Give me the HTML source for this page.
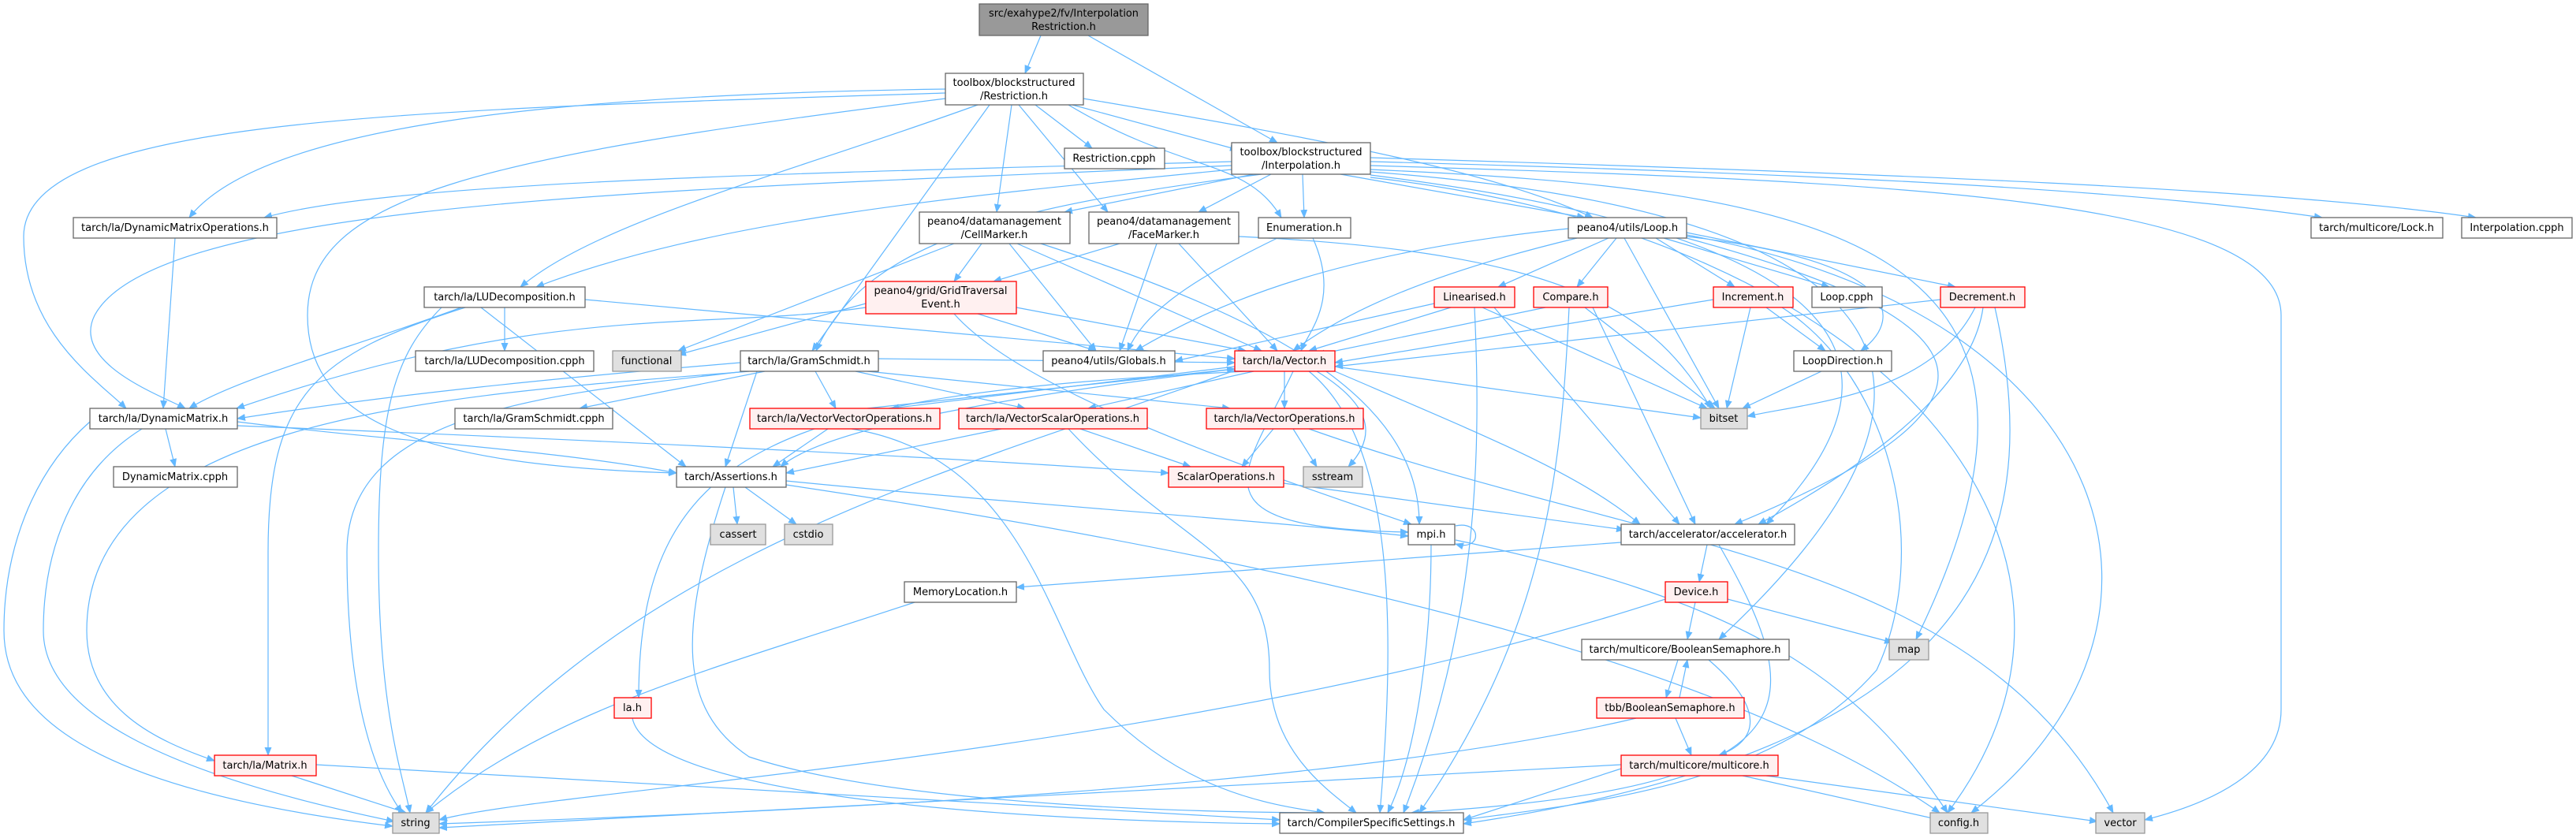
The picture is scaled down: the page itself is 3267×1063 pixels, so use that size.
<!DOCTYPE html>
<html><head><meta charset="utf-8"><style>
html,body{margin:0;padding:0;background:#fff;}
svg{display:block;}
text{font-family:"DejaVu Sans","Liberation Sans",sans-serif;font-size:13px;fill:#000;text-anchor:middle;}
.n rect{fill:#fff;stroke:#666;stroke-width:1.3;}
.r rect{fill:#fff0f0;stroke:#ff0000;stroke-width:1.3;}
.g rect{fill:#e0e0e0;stroke:#999;stroke-width:1.3;}
.k rect{fill:#999;stroke:#666;stroke-width:1.3;}
.e line,.e path{stroke:#63b8ff;stroke-width:1.2;fill:none;marker-end:url(#a);}
</style></head><body>
<svg width="3267" height="1063" viewBox="0 0 3267 1063" xmlns="http://www.w3.org/2000/svg">
<defs><marker id="a" markerUnits="userSpaceOnUse" markerWidth="11" markerHeight="9" refX="10" refY="4.5" orient="auto"><path d="M0,0 L11,4.5 L0,9 z" fill="#63b8ff"/></marker></defs>
<g class="e">
<line x1="1320" y1="45" x2="1300" y2="93"/>
<line x1="1380" y1="45" x2="1620" y2="181"/>
<path d="M1199,113 C700,120 330,160 240,276"/>
<path d="M1199,118 C500,140 30,150 30,300 C30,420 120,480 160,518"/>
<path d="M1240,133 C1000,220 760,280 660,364"/>
<line x1="1255" y1="133" x2="1030" y2="445"/>
<path d="M1199,125 C600,200 390,250 390,400 C390,520 500,590 858,600"/>
<line x1="1283" y1="133" x2="1264" y2="269"/>
<line x1="1292" y1="133" x2="1405" y2="269"/>
<line x1="1313" y1="133" x2="1385" y2="188"/>
<line x1="1360" y1="133" x2="1570" y2="190"/>
<path d="M1355,133 C1500,220 1580,200 1625,276"/>
<path d="M1374,125 C1700,180 1900,220 2020,276"/>
<path d="M1562,205 C1000,220 500,230 335,276"/>
<path d="M1562,210 C900,240 200,250 120,400 C90,460 200,500 235,518"/>
<path d="M1562,215 C1200,250 900,280 680,364"/>
<path d="M1600,221 C1300,260 1100,300 1035,445"/>
<line x1="1590" y1="221" x2="1350" y2="269"/>
<line x1="1612" y1="221" x2="1520" y2="269"/>
<line x1="1652" y1="221" x2="1654" y2="276"/>
<line x1="1700" y1="221" x2="2010" y2="276"/>
<path d="M1738,205 C2300,220 2700,240 2945,276"/>
<path d="M1738,200 C2400,220 2900,240 3140,276"/>
<path d="M1738,210 C2400,230 2893,250 2893,400 L2893,900 C2893,980 2800,1020 2720,1040"/>
<path d="M1738,215 C2300,240 2680,300 2430,811"/>
<path d="M1738,218 C2300,260 2600,420 2180,811"/>
<path d="M1738,222 C2200,280 2500,400 2240,665"/>
<path d="M1738,225 C2400,300 2720,700 2470,1031"/>
<line x1="1245" y1="309" x2="1210" y2="357"/>
<line x1="1280" y1="309" x2="1390" y2="445"/>
<line x1="1290" y1="309" x2="1600" y2="445"/>
<line x1="1210" y1="309" x2="860" y2="445"/>
<path d="M1320,309 C1600,400 1800,500 1800,665"/>
<line x1="1420" y1="309" x2="1260" y2="357"/>
<line x1="1467" y1="309" x2="1420" y2="445"/>
<line x1="1495" y1="309" x2="1620" y2="445"/>
<path d="M1571,300 C2000,320 2100,400 2170,518"/>
<path d="M1620,302 C1500,360 1450,400 1430,445"/>
<path d="M1665,302 C1700,380 1660,420 1650,445"/>
<line x1="2040" y1="302" x2="1900" y2="364"/>
<line x1="2050" y1="302" x2="2000" y2="364"/>
<line x1="2100" y1="302" x2="2200" y2="364"/>
<line x1="2110" y1="302" x2="2320" y2="364"/>
<line x1="2139" y1="295" x2="2480" y2="364"/>
<path d="M2139,300 C2400,330 2420,400 2360,445"/>
<path d="M1989,290 C1700,320 1550,380 1440,445"/>
<path d="M2000,302 C1800,350 1700,400 1640,445"/>
<line x1="2060" y1="302" x2="2180" y2="518"/>
<path d="M2139,302 C2500,400 2600,500 2200,665"/>
<path d="M2139,298 C2700,400 2800,800 2500,1031"/>
<line x1="1240" y1="398" x2="1390" y2="445"/>
<line x1="1289" y1="390" x2="1580" y2="445"/>
<line x1="1098" y1="385" x2="860" y2="450"/>
<path d="M1098,390 C900,420 700,380 300,518"/>
<path d="M1210,398 C1300,500 1600,600 1790,665"/>
<path d="M585,390 C450,440 300,480 240,518"/>
<path d="M590,390 C400,450 340,500 340,700 L340,958"/>
<line x1="742" y1="380" x2="1566" y2="455"/>
<line x1="610" y1="390" x2="870" y2="592"/>
<line x1="640" y1="390" x2="640" y2="445"/>
<path d="M560,390 C500,450 480,520 480,700 C480,900 510,980 520,1031"/>
<path d="M939,460 C700,480 500,500 301,531"/>
<line x1="970" y1="471" x2="735" y2="518"/>
<line x1="1034" y1="471" x2="1060" y2="518"/>
<line x1="1085" y1="471" x2="1300" y2="518"/>
<line x1="1100" y1="471" x2="1560" y2="518"/>
<line x1="1114" y1="455" x2="1566" y2="460"/>
<line x1="960" y1="471" x2="920" y2="592"/>
<path d="M950,471 C600,500 110,520 110,800 C110,900 200,940 272,965"/>
<path d="M945,471 C700,500 440,520 440,700 C440,900 480,990 510,1031"/>
<line x1="222" y1="302" x2="207" y2="518"/>
<line x1="210" y1="544" x2="222" y2="592"/>
<path d="M301,535 C500,560 700,570 858,600"/>
<path d="M180,544 C90,600 55,700 55,800 C55,900 200,980 500,1042"/>
<path d="M301,540 C800,560 1200,580 1482,600"/>
<path d="M114,535 C40,600 5,700 5,800 C5,900 100,1000 498,1048"/>
<line x1="1840" y1="390" x2="1660" y2="445"/>
<line x1="1819" y1="385" x2="1490" y2="458"/>
<line x1="1880" y1="390" x2="2165" y2="518"/>
<line x1="1895" y1="390" x2="2130" y2="665"/>
<path d="M1870,390 C1880,600 1870,800 1780,1031"/>
<line x1="1960" y1="390" x2="1670" y2="450"/>
<line x1="2010" y1="390" x2="2175" y2="518"/>
<line x1="2020" y1="390" x2="2150" y2="665"/>
<path d="M1990,390 C1980,600 1960,800 1800,1031"/>
<line x1="2173" y1="380" x2="1693" y2="460"/>
<line x1="2240" y1="390" x2="2315" y2="445"/>
<line x1="2220" y1="390" x2="2190" y2="518"/>
<path d="M2260,390 C2400,480 2450,700 2380,850 C2250,1000 2000,1020 1856,1040"/>
<line x1="2461" y1="380" x2="1693" y2="465"/>
<path d="M2505,390 C2450,500 2300,510 2216,528"/>
<path d="M2515,390 C2500,500 2350,600 2230,665"/>
<path d="M2530,390 C2600,700 2500,950 1856,1045"/>
<line x1="2310" y1="471" x2="2210" y2="518"/>
<line x1="1566" y1="465" x2="1130" y2="518"/>
<line x1="1100" y1="518" x2="1566" y2="468"/>
<line x1="1590" y1="471" x2="1380" y2="518"/>
<line x1="1629" y1="471" x2="1629" y2="518"/>
<path d="M1566,468 C1300,500 1050,540 990,592"/>
<path d="M1580,471 C1000,500 810,560 810,885"/>
<path d="M1670,471 C1750,520 1740,560 1710,592"/>
<path d="M1566,470 C1200,600 800,700 540,1031"/>
<line x1="1693" y1="465" x2="2157" y2="530"/>
<path d="M1660,471 C1770,560 1770,800 1750,1031"/>
<path d="M1693,471 C1900,560 2000,600 2080,665"/>
<path d="M1640,471 C1580,600 1500,670 1786,675"/>
<line x1="1050" y1="544" x2="980" y2="592"/>
<path d="M1080,544 C1300,580 1330,800 1400,900 C1500,1000 1600,1020 1680,1031"/>
<line x1="1370" y1="544" x2="1510" y2="592"/>
<line x1="1270" y1="544" x2="997" y2="600"/>
<path d="M1355,544 C1500,700 1610,700 1610,850 C1610,950 1680,1000 1720,1031"/>
<line x1="1615" y1="544" x2="1575" y2="592"/>
<line x1="1640" y1="544" x2="1670" y2="592"/>
<path d="M1660,544 C2100,700 2500,700 2680,1031"/>
<line x1="1628" y1="613" x2="2060" y2="672"/>
<line x1="930" y1="618" x2="935" y2="665"/>
<line x1="945" y1="618" x2="1010" y2="665"/>
<path d="M997,610 C1300,640 1600,660 1786,680"/>
<path d="M920,618 C860,800 860,900 950,960 C1100,1010 1400,1030 1680,1031"/>
<path d="M997,615 C1700,720 2200,850 2460,1031"/>
<path d="M1846,667 C1880,660 1880,700 1846,690"/>
<path d="M1815,691 C1815,800 1800,950 1760,1031"/>
<path d="M1846,685 C2200,760 2350,850 2470,1031"/>
<line x1="2056" y1="688" x2="1289" y2="745"/>
<line x1="2165" y1="691" x2="2155" y2="738"/>
<path d="M2180,691 C2300,900 2300,1000 1790,1031"/>
<line x1="2150" y1="764" x2="2140" y2="811"/>
<line x1="2191" y1="760" x2="2400" y2="815"/>
<path d="M2112,760 C1500,960 700,1000 557,1040"/>
<path d="M1160,764 C900,850 700,900 540,1031"/>
<line x1="2128" y1="837" x2="2113" y2="885"/>
<line x1="2130" y1="885" x2="2140" y2="837"/>
<path d="M2167,837 C2240,900 2230,940 2180,958"/>
<line x1="2125" y1="911" x2="2145" y2="958"/>
<path d="M2075,911 C1700,1000 1000,1030 557,1045"/>
<line x1="2056" y1="975" x2="1856" y2="1040"/>
<line x1="2210" y1="984" x2="2460" y2="1040"/>
<line x1="2240" y1="984" x2="2660" y2="1042"/>
<path d="M2056,970 C1500,1000 1000,1030 557,1050"/>
<path d="M802,911 C820,1000 1200,1040 1623,1045"/>
<line x1="370" y1="984" x2="515" y2="1031"/>
<line x1="401" y1="970" x2="1623" y2="1040"/>
</g>
<g class="k"><rect x="1242" y="5" width="214" height="40"/><text x="1349" y="21" textLength="190" lengthAdjust="spacingAndGlyphs">src/exahype2/fv/Interpolation</text><text x="1349" y="38">Restriction.h</text></g>
<g class="n"><rect x="1199" y="93" width="175" height="40"/><text x="1286" y="109" textLength="155" lengthAdjust="spacingAndGlyphs">toolbox/blockstructured</text><text x="1286" y="126">/Restriction.h</text></g>
<g class="n"><rect x="1350" y="188" width="127" height="26"/><text x="1413" y="205">Restriction.cpph</text></g>
<g class="n"><rect x="1562" y="181" width="176" height="40"/><text x="1650" y="197" textLength="155" lengthAdjust="spacingAndGlyphs">toolbox/blockstructured</text><text x="1650" y="214">/Interpolation.h</text></g>
<g class="n"><rect x="1166" y="269" width="191" height="40"/><text x="1261" y="285" textLength="170" lengthAdjust="spacingAndGlyphs">peano4/datamanagement</text><text x="1261" y="302">/CellMarker.h</text></g>
<g class="n"><rect x="1381" y="269" width="190" height="40"/><text x="1476" y="285" textLength="170" lengthAdjust="spacingAndGlyphs">peano4/datamanagement</text><text x="1476" y="302">/FaceMarker.h</text></g>
<g class="n"><rect x="1596" y="276" width="117" height="26"/><text x="1654" y="293">Enumeration.h</text></g>
<g class="n"><rect x="1989" y="276" width="150" height="26"/><text x="2064" y="293">peano4/utils/Loop.h</text></g>
<g class="n"><rect x="2931" y="276" width="167" height="26"/><text x="3014" y="293">tarch/multicore/Lock.h</text></g>
<g class="n"><rect x="3122" y="276" width="140" height="26"/><text x="3192" y="293">Interpolation.cpph</text></g>
<g class="n"><rect x="93" y="276" width="258" height="26"/><text x="222" y="293" textLength="238" lengthAdjust="spacingAndGlyphs">tarch/la/DynamicMatrixOperations.h</text></g>
<g class="n"><rect x="538" y="364" width="204" height="26"/><text x="640" y="381">tarch/la/LUDecomposition.h</text></g>
<g class="r"><rect x="1098" y="357" width="191" height="41"/><text x="1193" y="373">peano4/grid/GridTraversal</text><text x="1193" y="390">Event.h</text></g>
<g class="r"><rect x="1819" y="364" width="102" height="26"/><text x="1870" y="381">Linearised.h</text></g>
<g class="r"><rect x="1945" y="364" width="94" height="26"/><text x="1992" y="381">Compare.h</text></g>
<g class="r"><rect x="2173" y="364" width="101" height="26"/><text x="2223" y="381">Increment.h</text></g>
<g class="n"><rect x="2298" y="364" width="89" height="26"/><text x="2342" y="381">Loop.cpph</text></g>
<g class="r"><rect x="2461" y="364" width="107" height="26"/><text x="2514" y="381">Decrement.h</text></g>
<g class="n"><rect x="527" y="445" width="226" height="26"/><text x="640" y="462">tarch/la/LUDecomposition.cpph</text></g>
<g class="g"><rect x="777" y="445" width="87" height="26"/><text x="820" y="462">functional</text></g>
<g class="n"><rect x="939" y="445" width="175" height="26"/><text x="1026" y="462">tarch/la/GramSchmidt.h</text></g>
<g class="n"><rect x="1323" y="445" width="167" height="26"/><text x="1406" y="462">peano4/utils/Globals.h</text></g>
<g class="r"><rect x="1566" y="445" width="127" height="26"/><text x="1629" y="462">tarch/la/Vector.h</text></g>
<g class="n"><rect x="2275" y="445" width="124" height="26"/><text x="2337" y="462">LoopDirection.h</text></g>
<g class="n"><rect x="114" y="518" width="187" height="26"/><text x="207" y="535">tarch/la/DynamicMatrix.h</text></g>
<g class="n"><rect x="577" y="518" width="200" height="26"/><text x="677" y="535">tarch/la/GramSchmidt.cpph</text></g>
<g class="r"><rect x="951" y="518" width="241" height="26"/><text x="1071" y="535" textLength="222" lengthAdjust="spacingAndGlyphs">tarch/la/VectorVectorOperations.h</text></g>
<g class="r"><rect x="1216" y="518" width="239" height="26"/><text x="1335" y="535" textLength="220" lengthAdjust="spacingAndGlyphs">tarch/la/VectorScalarOperations.h</text></g>
<g class="r"><rect x="1530" y="518" width="199" height="26"/><text x="1629" y="535">tarch/la/VectorOperations.h</text></g>
<g class="g"><rect x="2157" y="518" width="59" height="26"/><text x="2186" y="535">bitset</text></g>
<g class="n"><rect x="144" y="592" width="157" height="26"/><text x="222" y="609">DynamicMatrix.cpph</text></g>
<g class="n"><rect x="858" y="592" width="139" height="26"/><text x="927" y="609">tarch/Assertions.h</text></g>
<g class="r"><rect x="1482" y="592" width="146" height="26"/><text x="1555" y="609">ScalarOperations.h</text></g>
<g class="g"><rect x="1653" y="592" width="75" height="26"/><text x="1690" y="609">sstream</text></g>
<g class="g"><rect x="901" y="665" width="70" height="26"/><text x="936" y="682">cassert</text></g>
<g class="g"><rect x="995" y="665" width="61" height="26"/><text x="1025" y="682">cstdio</text></g>
<g class="n"><rect x="1786" y="665" width="59" height="26"/><text x="1815" y="682">mpi.h</text></g>
<g class="n"><rect x="2056" y="665" width="220" height="26"/><text x="2166" y="682">tarch/accelerator/accelerator.h</text></g>
<g class="n"><rect x="1147" y="738" width="142" height="26"/><text x="1218" y="755">MemoryLocation.h</text></g>
<g class="r"><rect x="2112" y="738" width="79" height="26"/><text x="2151" y="755">Device.h</text></g>
<g class="n"><rect x="2006" y="811" width="263" height="26"/><text x="2137" y="828">tarch/multicore/BooleanSemaphore.h</text></g>
<g class="g"><rect x="2396" y="811" width="50" height="26"/><text x="2421" y="828">map</text></g>
<g class="r"><rect x="779" y="885" width="47" height="26"/><text x="802" y="902">la.h</text></g>
<g class="r"><rect x="2025" y="885" width="187" height="26"/><text x="2118" y="902">tbb/BooleanSemaphore.h</text></g>
<g class="r"><rect x="272" y="958" width="129" height="26"/><text x="336" y="975">tarch/la/Matrix.h</text></g>
<g class="r"><rect x="2056" y="958" width="199" height="26"/><text x="2155" y="975">tarch/multicore/multicore.h</text></g>
<g class="g"><rect x="498" y="1031" width="59" height="26"/><text x="527" y="1048">string</text></g>
<g class="n"><rect x="1623" y="1031" width="233" height="26"/><text x="1739" y="1048">tarch/CompilerSpecificSettings.h</text></g>
<g class="g"><rect x="2448" y="1031" width="73" height="26"/><text x="2484" y="1048">config.h</text></g>
<g class="g"><rect x="2658" y="1031" width="62" height="26"/><text x="2689" y="1048">vector</text></g>
</svg>
</body></html>
